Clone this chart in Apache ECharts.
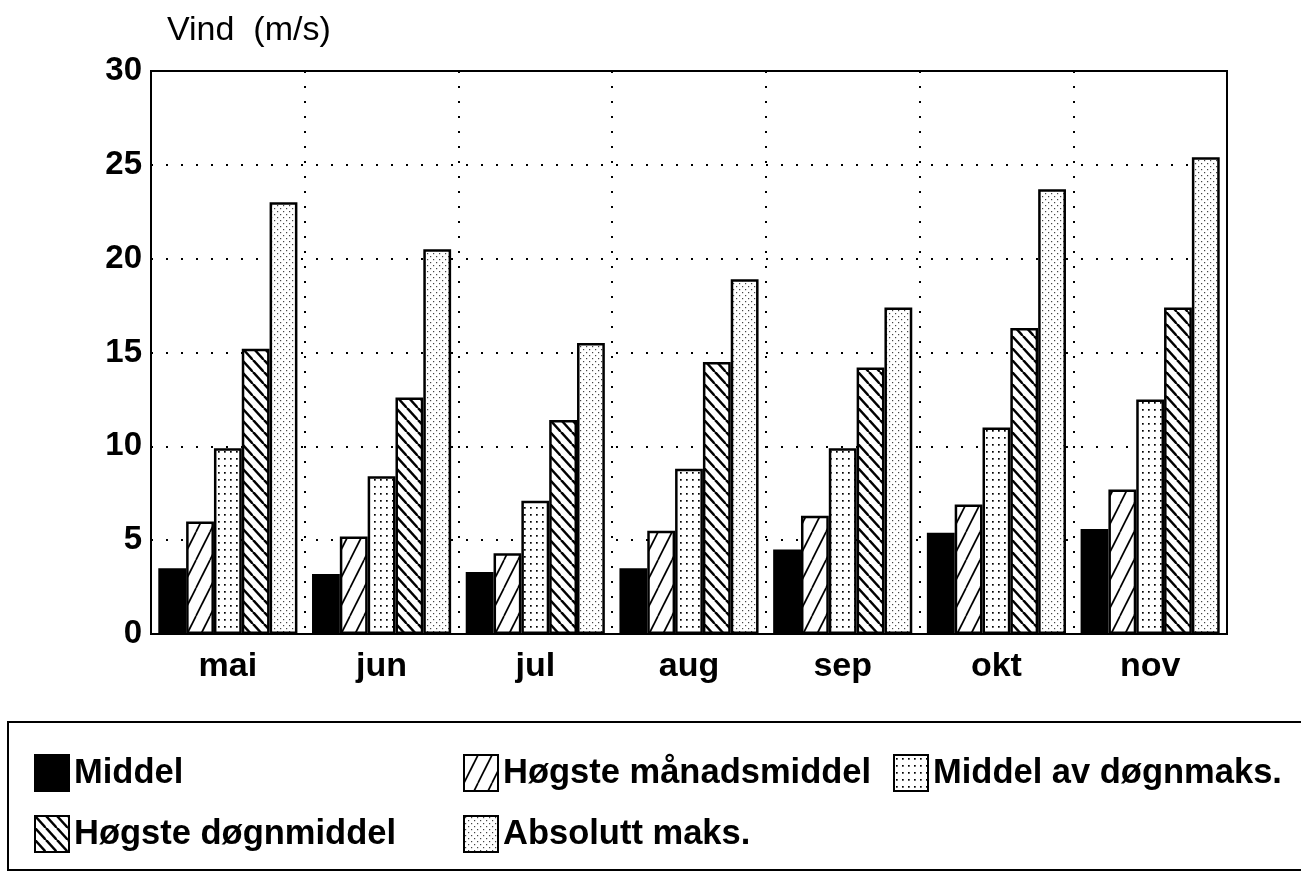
<!DOCTYPE html>
<html>
<head>
<meta charset="utf-8">
<script src="https://cdn.jsdelivr.net/npm/echarts@6/dist/echarts.min.js"></script>
<style>
html,body{margin:0;padding:0;background:#fff;}
#c{width:1301px;height:885px;}
</style>
</head>
<body>
<div id="c"></div>
<script>
const categories = ['mai','jun','jul','aug','sep','okt','nov'];
const seriesNames = ['Middel','Høgste månadsmiddel','Middel av døgnmaks.','Høgste døgnmiddel','Absolutt maks.'];
const middel = [3.5, 3.2, 3.3, 3.5, 4.5, 5.4, 5.6];
const hogsteManadsmiddel = [6.0, 5.2, 4.3, 5.5, 6.3, 6.9, 7.7];
const middelDognmaks = [9.9, 8.4, 7.1, 8.8, 9.9, 11.0, 12.5];
const hogsteDognmiddel = [15.2, 12.6, 11.4, 14.5, 14.2, 16.3, 17.4];
const absoluttMaks = [23.0, 20.5, 15.5, 18.9, 17.4, 23.7, 25.4];
const yTicks = [0, 5, 10, 15, 20, 25, 30];

function makeCanvas(w, h, draw) {
  const c = document.createElement('canvas');
  c.width = w; c.height = h;
  const ctx = c.getContext('2d');
  ctx.fillStyle = '#fff';
  ctx.fillRect(0, 0, w, h);
  draw(ctx, w, h);
  return c;
}
// "/" sparse steep lines
const patSlash = makeCanvas(14, 28, (ctx, w, h) => {
  ctx.strokeStyle = '#000'; ctx.lineWidth = 1.7;
  for (let k = -1; k <= 1; k++) {
    ctx.beginPath(); ctx.moveTo(k * w, h); ctx.lineTo(k * w + w, 0); ctx.stroke();
  }
});
// "\" denser thick lines
const patBack = makeCanvas(11, 12, (ctx, w, h) => {
  ctx.strokeStyle = '#000'; ctx.lineWidth = 2.5;
  for (let k = -1; k <= 1; k++) {
    ctx.beginPath(); ctx.moveTo(k * w, 0); ctx.lineTo(k * w + w, h); ctx.stroke();
  }
});
// dotted grid
const patDots = makeCanvas(6, 7, (ctx) => {
  ctx.fillStyle = '#000';
  ctx.fillRect(2, 3, 1.7, 1.7);
});
// fine light dots
const patFine = makeCanvas(6, 6, (ctx) => {
  ctx.fillStyle = '#444';
  ctx.fillRect(1, 1, 1.2, 1.2);
  ctx.fillRect(4, 4, 1.2, 1.2);
});

const fills = [
  '#000',
  { image: patSlash, repeat: 'repeat' },
  { image: patDots, repeat: 'repeat' },
  { image: patBack, repeat: 'repeat' },
  { image: patFine, repeat: 'repeat' }
];
const dataArr = [middel, hogsteManadsmiddel, middelDognmaks, hogsteDognmiddel, absoluttMaks];

const series = seriesNames.map((n, i) => ({
  name: n,
  type: 'bar',
  data: dataArr[i],
  barGap: '0%',
  barCategoryGap: '9.5%',
  itemStyle: { color: fills[i], borderColor: '#000', borderWidth: 2.5 }
}));

const legendPos = [
  [29, 749], [458, 749], [888, 749],
  [29, 810], [458, 810]
];
const legends = seriesNames.map((n, i) => ({
  data: [n],
  left: legendPos[i][0],
  top: legendPos[i][1],
  orient: 'horizontal',
  itemWidth: 34,
  itemHeight: 36,
  itemGap: 0,
  selectedMode: false,
  icon: 'rect',
  textStyle: { fontFamily: 'Liberation Sans, Arial, sans-serif', fontSize: 34.5, fontWeight: 'bold', color: '#000' }
}));

const chart = echarts.init(document.getElementById('c'), null, { renderer: 'canvas' });
chart.setOption({
  animation: false,
  backgroundColor: '#fff',
  title: {
    text: 'Vind  (m/s)',
    left: 162, top: 9,
    textStyle: { fontFamily: 'Liberation Sans, Arial, sans-serif', fontSize: 34, fontWeight: 'normal', color: '#000' }
  },
  legend: legends,
  grid: {
    left: 151, right: 74, top: 71, bottom: 251,
    show: true, borderColor: '#000', borderWidth: 2, backgroundColor: 'transparent'
  },
  xAxis: {
    type: 'category',
    data: categories,
    axisLine: { show: true, lineStyle: { color: '#000', width: 2 } },
    axisTick: { show: false },
    axisLabel: { margin: 16, fontFamily: 'Liberation Sans, Arial, sans-serif', fontSize: 34, fontWeight: 'bold', color: '#000' },
    splitLine: { show: true, interval: 0, lineStyle: { color: '#000', width: 2, type: [2, 13] } }
  },
  yAxis: {
    type: 'value',
    min: yTicks[0], max: yTicks[yTicks.length - 1], interval: 5,
    axisLine: { show: true, lineStyle: { color: '#000', width: 2 } },
    axisTick: { show: false },
    axisLabel: { margin: 9, fontFamily: 'Liberation Sans, Arial, sans-serif', fontSize: 33, fontWeight: 'bold', color: '#000' },
    splitLine: { show: true, lineStyle: { color: '#000', width: 2, type: [2, 13] } }
  },
  graphic: [{
    type: 'rect',
    shape: { x: 8, y: 722, width: 1310, height: 148 },
    style: { fill: 'none', stroke: '#000', lineWidth: 2 },
    silent: true
  }],
  series: series
});
</script>
</body>
</html>
